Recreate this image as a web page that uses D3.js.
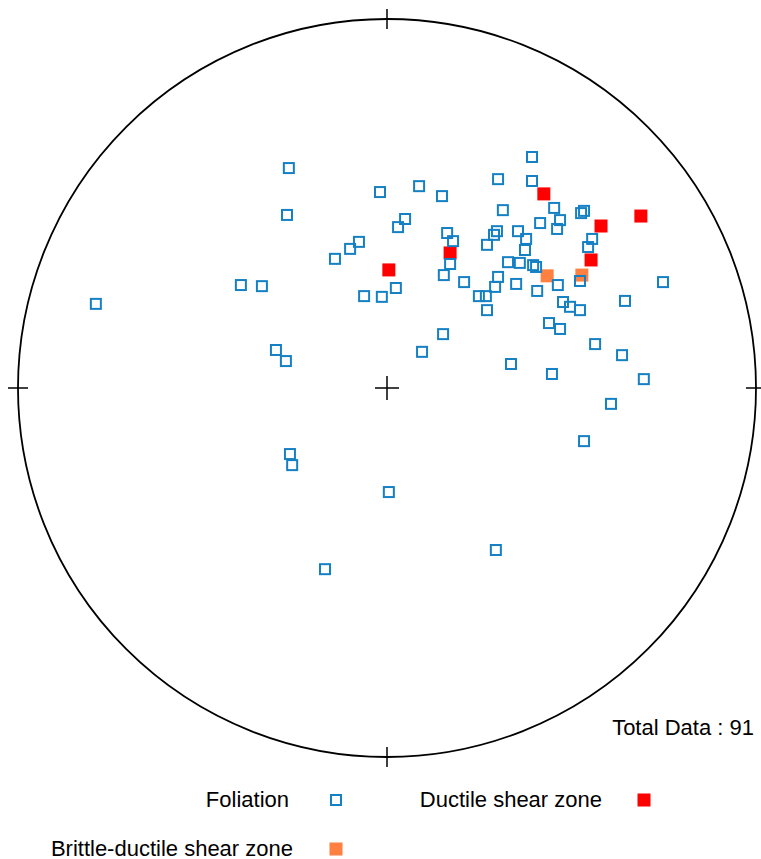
<!DOCTYPE html>
<html>
<head>
<meta charset="utf-8">
<script src="https://cdn.jsdelivr.net/npm/d3@7"></script>
<style>
  body { margin: 0; background: #fff; }
  svg { display: block; font-family: "Liberation Sans", Arial, sans-serif; }
</style>
</head>
<body>
<svg id="main-svg"></svg>
<script>
// --- data: projected positions, % of net radius (east, north) ---
const foliation = [
  [39.3, 62.6], [30.1, 56.6], [39.3, 56.1], [8.7, 54.7], [14.9, 52.0],
  [-1.9, 53.1], [-26.6, 59.6], [-27.1, 46.9], [31.4, 48.2], [45.3, 48.8],
  [52.6, 47.4], [53.4, 48.0], [41.5, 44.7], [46.9, 45.5], [46.1, 43.1],
  [4.9, 45.8], [3.0, 43.6], [16.3, 42.0], [17.9, 39.8], [29.8, 42.5],
  [29.0, 41.5], [35.5, 42.5], [37.7, 40.4], [27.1, 38.8], [37.4, 37.4],
  [55.6, 40.4], [54.5, 38.2], [-7.6, 39.6], [-10.0, 37.7], [-14.1, 35.0],
  [17.1, 33.6], [15.4, 30.6], [32.8, 34.1], [36.0, 33.9], [39.6, 33.3],
  [40.4, 32.8], [52.3, 29.0], [20.9, 28.7], [30.1, 30.1], [29.3, 27.4],
  [35.0, 28.2], [40.7, 26.3], [46.3, 27.9], [74.8, 28.7], [-39.6, 27.9],
  [-33.9, 27.6], [2.4, 27.1], [-6.2, 24.9], [-1.4, 24.7], [24.9, 24.9],
  [26.8, 24.9], [27.1, 21.1], [47.7, 23.3], [49.6, 22.0], [52.3, 21.1],
  [64.5, 23.6], [-78.9, 22.8], [43.9, 17.6], [46.9, 16.0], [15.2, 14.6],
  [9.5, 9.8], [56.4, 11.9], [63.7, 8.9], [33.6, 6.5], [44.7, 3.8],
  [69.6, 2.4], [60.7, -4.3], [53.4, -14.4], [-30.1, 10.3], [-27.4, 7.3],
  [-26.3, -17.9], [-25.7, -20.9], [0.5, -28.2], [29.5, -43.9], [-16.8, -49.1]
];
const ductile = [
  [42.5, 52.6], [68.8, 46.6], [58.0, 43.9], [17.1, 36.6], [55.3, 34.7], [0.5, 32.0]
];
const brittleDuctile = [
  [43.4, 30.4], [52.8, 30.6]
];
const totalData = 91;

const legendItems = [
  { label: "Foliation", type: "foliation" },
  { label: "Ductile shear zone", type: "ductile" },
  { label: "Brittle-ductile shear zone", type: "brittle" }
];

// --- setup ---
const width = 761, height = 859;
const cx = 387, cy = 388, R = 369;

const svg = d3.select("#main-svg")
  .attr("width", width)
  .attr("height", height);

const x = d3.scaleLinear().domain([-100, 100]).range([cx - R, cx + R]);
const y = d3.scaleLinear().domain([-100, 100]).range([cy + R, cy - R]);

const blue = "#1580c3", red = "#ff0000", orange = "#ff8040";

// primitive circle
svg.append("circle")
  .attr("cx", x(0)).attr("cy", y(0)).attr("r", R)
  .attr("fill", "none").attr("stroke", "#000").attr("stroke-width", 1.8);

// N/E/S/W ticks and center cross
const tick = 10;
const tickLines = [
  [x(0), y(100) - tick, x(0), y(100) + tick],
  [x(0), y(-100) - tick, x(0), y(-100) + tick],
  [x(-100) - tick, y(0), x(-100) + tick, y(0)],
  [x(100) - tick, y(0), x(100) + tick, y(0)],
  [x(0) - 12, y(0), x(0) + 12, y(0)],
  [x(0), y(0) - 12, x(0), y(0) + 12]
];
svg.append("g").selectAll("line")
  .data(tickLines)
  .enter().append("line")
  .attr("x1", d => d[0]).attr("y1", d => d[1])
  .attr("x2", d => d[2]).attr("y2", d => d[3])
  .attr("stroke", "#000").attr("stroke-width", 1.5);

// filled markers first, open foliation squares on top
function filled(data, color) {
  svg.append("g").selectAll("rect")
    .data(data)
    .enter().append("rect")
    .attr("x", d => x(d[0]) - 6.5)
    .attr("y", d => y(d[1]) - 6.5)
    .attr("width", 13).attr("height", 13)
    .attr("fill", color);
}
filled(ductile, red);
filled(brittleDuctile, orange);

svg.append("g").selectAll("rect")
  .data(foliation)
  .enter().append("rect")
  .attr("x", d => x(d[0]) - 5)
  .attr("y", d => y(d[1]) - 5)
  .attr("width", 10).attr("height", 10)
  .attr("fill", "none")
  .attr("stroke", blue).attr("stroke-width", 2);

// total label
svg.append("text")
  .attr("x", 754).attr("y", 735)
  .attr("text-anchor", "end")
  .attr("font-size", 22)
  .text(`Total Data : ${totalData}`);

// legend
const legendPos = [
  { tx: 289, sx: 336, y: 800 },
  { tx: 602, sx: 644, y: 800 },
  { tx: 293, sx: 336, y: 849 }
];
const lg = svg.append("g");
legendItems.forEach((item, i) => {
  const p = legendPos[i];
  lg.append("text")
    .attr("x", p.tx).attr("y", p.y + 7)
    .attr("text-anchor", "end")
    .attr("font-size", 22)
    .text(item.label);
  if (item.type === "foliation") {
    lg.append("rect")
      .attr("x", p.sx - 5).attr("y", p.y - 5)
      .attr("width", 10).attr("height", 10)
      .attr("fill", "none").attr("stroke", blue).attr("stroke-width", 2);
  } else {
    lg.append("rect")
      .attr("x", p.sx - 6.5).attr("y", p.y - 6.5)
      .attr("width", 13).attr("height", 13)
      .attr("fill", item.type === "ductile" ? red : orange);
  }
});
</script>
</body>
</html>
